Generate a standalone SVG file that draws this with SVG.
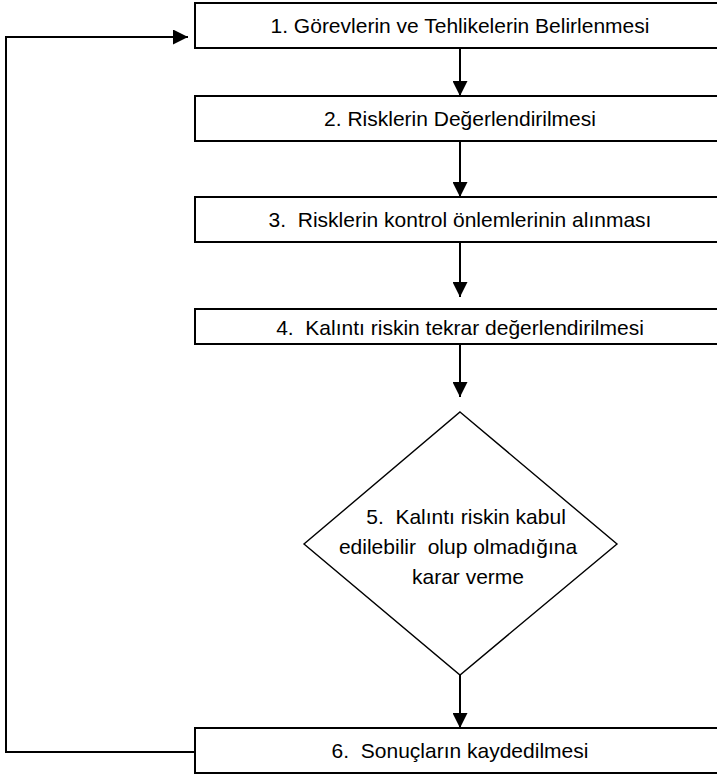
<svg xmlns="http://www.w3.org/2000/svg" width="717" height="775" viewBox="0 0 717 775">
  <style>
    .box { fill: #ffffff; stroke: #000000; stroke-width: 2; }
    .dia { fill: #ffffff; stroke: #000000; stroke-width: 1.4; }
    .lbl { font-family: "Liberation Sans", Arial, sans-serif; font-size: 21px; fill: #000000; text-anchor: middle; white-space: pre; }
    .edge { fill: none; stroke: #000000; stroke-width: 2; }
  </style>
  <defs>
    <marker id="arrow" markerUnits="userSpaceOnUse" markerWidth="15" markerHeight="15" refX="15" refY="7.5" orient="auto">
      <path d="M0,0 L15,7.5 L0,15 Z" fill="#000000"/>
    </marker>
  </defs>
  <rect width="717" height="775" fill="#ffffff"/>

  <!-- connectors -->
  <g id="connectors">
    <line class="edge" x1="460" y1="48" x2="460" y2="96" marker-end="url(#arrow)"/>
    <line class="edge" x1="460" y1="141" x2="460" y2="197" marker-end="url(#arrow)"/>
    <line class="edge" x1="460" y1="242" x2="460" y2="297" marker-end="url(#arrow)"/>
    <line class="edge" x1="460" y1="344" x2="460" y2="397" marker-end="url(#arrow)"/>
    <line class="edge" x1="460" y1="675" x2="460" y2="728" marker-end="url(#arrow)"/>
    <polyline class="edge" points="195,752 6,752 6,37 188,37" marker-end="url(#arrow)"/>
  </g>

  <!-- step 1 -->
  <g id="step1">
    <rect class="box" x="195" y="3" width="530" height="45"/>
    <text class="lbl" x="460" y="33">1. Görevlerin ve Tehlikelerin Belirlenmesi</text>
  </g>

  <!-- step 2 -->
  <g id="step2">
    <rect class="box" x="195" y="96" width="530" height="45"/>
    <text class="lbl" x="460" y="126">2. Risklerin Değerlendirilmesi</text>
  </g>

  <!-- step 3 -->
  <g id="step3">
    <rect class="box" x="195" y="197" width="530" height="45"/>
    <text class="lbl" x="460" y="227">3.  Risklerin kontrol önlemlerinin alınması</text>
  </g>

  <!-- step 4 -->
  <g id="step4">
    <rect class="box" x="195" y="309" width="530" height="35"/>
    <text class="lbl" x="460" y="335">4.  Kalıntı riskin tekrar değerlendirilmesi</text>
  </g>

  <!-- step 5: decision -->
  <g id="step5">
    <polygon class="dia" points="460,412 617,544 460,675 304,544"/>
    <text class="lbl" x="466" y="524">5.  Kalıntı riskin kabul</text>
    <text class="lbl" x="458" y="554">edilebilir  olup olmadığına</text>
    <text class="lbl" x="468" y="584">karar verme</text>
  </g>

  <!-- step 6 -->
  <g id="step6">
    <rect class="box" x="195" y="728" width="530" height="45"/>
    <text class="lbl" x="460" y="758">6.  Sonuçların kaydedilmesi</text>
  </g>
</svg>
